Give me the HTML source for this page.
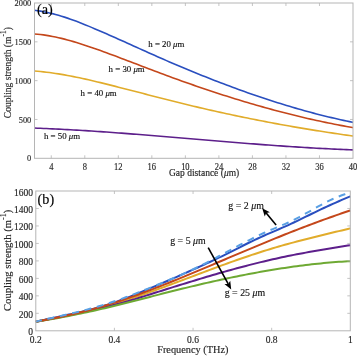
<!DOCTYPE html><html><head><meta charset="utf-8"><style>html,body{margin:0;padding:0;background:#fff;}svg{display:block;will-change:transform;filter:blur(0.3px);}text{font-family:"Liberation Serif",serif;stroke-width:0.15px;}</style></head><body>
<svg width="357" height="356" viewBox="0 0 357 356">
<rect x="0" y="0" width="357" height="356" fill="#fff"/>
<path d="M34.50,10.33 L37.50,10.70 L40.50,11.15 L43.50,11.67 L46.50,12.26 L49.50,12.92 L52.50,13.65 L55.50,14.44 L58.50,15.28 L61.50,16.18 L64.50,17.13 L67.50,18.13 L70.50,19.17 L73.50,20.25 L76.50,21.37 L79.50,22.52 L82.50,23.70 L85.50,24.90 L88.50,26.13 L91.50,27.38 L94.50,28.65 L97.50,29.93 L100.50,31.22 L103.50,32.52 L106.50,33.83 L109.50,35.15 L112.50,36.48 L115.50,37.81 L118.50,39.15 L121.50,40.50 L124.50,41.85 L127.50,43.20 L130.50,44.55 L133.50,45.91 L136.50,47.26 L139.50,48.62 L142.50,49.97 L145.50,51.32 L148.50,52.67 L151.50,54.01 L154.50,55.34 L157.50,56.67 L160.50,57.99 L163.50,59.30 L166.50,60.61 L169.50,61.91 L172.50,63.20 L175.50,64.48 L178.50,65.76 L181.50,67.02 L184.50,68.28 L187.50,69.53 L190.50,70.78 L193.50,72.01 L196.50,73.24 L199.50,74.45 L202.50,75.66 L205.50,76.86 L208.50,78.05 L211.50,79.23 L214.50,80.40 L217.50,81.56 L220.50,82.72 L223.50,83.86 L226.50,84.99 L229.50,86.12 L232.50,87.23 L235.50,88.34 L238.50,89.43 L241.50,90.51 L244.50,91.58 L247.50,92.65 L250.50,93.70 L253.50,94.74 L256.50,95.77 L259.50,96.79 L262.50,97.79 L265.50,98.79 L268.50,99.78 L271.50,100.75 L274.50,101.71 L277.50,102.66 L280.50,103.60 L283.50,104.53 L286.50,105.44 L289.50,106.34 L292.50,107.23 L295.50,108.11 L298.50,108.98 L301.50,109.83 L304.50,110.67 L307.50,111.50 L310.50,112.31 L313.50,113.11 L316.50,113.90 L319.50,114.67 L322.50,115.43 L325.50,116.18 L328.50,116.91 L331.50,117.63 L334.50,118.34 L337.50,119.03 L340.50,119.71 L343.50,120.37 L346.50,121.02 L349.50,121.65 L352.50,122.27 L353.00,122.38" fill="none" stroke="#2a4fbf" stroke-width="1.60" stroke-linejoin="round"/>
<path d="M34.50,33.93 L37.50,34.19 L40.50,34.51 L43.50,34.90 L46.50,35.35 L49.50,35.86 L52.50,36.42 L55.50,37.03 L58.50,37.69 L61.50,38.40 L64.50,39.15 L67.50,39.94 L70.50,40.77 L73.50,41.64 L76.50,42.54 L79.50,43.47 L82.50,44.42 L85.50,45.41 L88.50,46.41 L91.50,47.44 L94.50,48.48 L97.50,49.53 L100.50,50.60 L103.50,51.69 L106.50,52.78 L109.50,53.89 L112.50,55.00 L115.50,56.12 L118.50,57.25 L121.50,58.39 L124.50,59.53 L127.50,60.67 L130.50,61.82 L133.50,62.97 L136.50,64.12 L139.50,65.27 L142.50,66.42 L145.50,67.57 L148.50,68.72 L151.50,69.86 L154.50,70.99 L157.50,72.12 L160.50,73.24 L163.50,74.36 L166.50,75.47 L169.50,76.57 L172.50,77.67 L175.50,78.75 L178.50,79.83 L181.50,80.91 L184.50,81.98 L187.50,83.03 L190.50,84.09 L193.50,85.13 L196.50,86.17 L199.50,87.20 L202.50,88.22 L205.50,89.23 L208.50,90.24 L211.50,91.24 L214.50,92.23 L217.50,93.21 L220.50,94.18 L223.50,95.15 L226.50,96.10 L229.50,97.05 L232.50,97.99 L235.50,98.92 L238.50,99.84 L241.50,100.75 L244.50,101.66 L247.50,102.55 L250.50,103.44 L253.50,104.32 L256.50,105.18 L259.50,106.04 L262.50,106.89 L265.50,107.73 L268.50,108.56 L271.50,109.38 L274.50,110.19 L277.50,110.99 L280.50,111.77 L283.50,112.55 L286.50,113.32 L289.50,114.08 L292.50,114.83 L295.50,115.57 L298.50,116.30 L301.50,117.02 L304.50,117.72 L307.50,118.42 L310.50,119.10 L313.50,119.78 L316.50,120.44 L319.50,121.09 L322.50,121.73 L325.50,122.36 L328.50,122.98 L331.50,123.59 L334.50,124.18 L337.50,124.77 L340.50,125.34 L343.50,125.90 L346.50,126.45 L349.50,126.99 L352.50,127.51 L353.00,127.60" fill="none" stroke="#c4471b" stroke-width="1.60" stroke-linejoin="round"/>
<path d="M34.50,70.99 L37.50,71.24 L40.50,71.52 L43.50,71.84 L46.50,72.19 L49.50,72.57 L52.50,72.98 L55.50,73.42 L58.50,73.89 L61.50,74.38 L64.50,74.90 L67.50,75.44 L70.50,76.01 L73.50,76.60 L76.50,77.20 L79.50,77.83 L82.50,78.48 L85.50,79.14 L88.50,79.81 L91.50,80.51 L94.50,81.21 L97.50,81.93 L100.50,82.65 L103.50,83.39 L106.50,84.13 L109.50,84.88 L112.50,85.64 L115.50,86.40 L118.50,87.17 L121.50,87.93 L124.50,88.70 L127.50,89.48 L130.50,90.25 L133.50,91.03 L136.50,91.80 L139.50,92.58 L142.50,93.35 L145.50,94.13 L148.50,94.91 L151.50,95.68 L154.50,96.45 L157.50,97.22 L160.50,97.99 L163.50,98.76 L166.50,99.52 L169.50,100.28 L172.50,101.04 L175.50,101.79 L178.50,102.53 L181.50,103.27 L184.50,104.01 L187.50,104.74 L190.50,105.46 L193.50,106.18 L196.50,106.89 L199.50,107.60 L202.50,108.30 L205.50,108.99 L208.50,109.68 L211.50,110.36 L214.50,111.04 L217.50,111.71 L220.50,112.37 L223.50,113.03 L226.50,113.69 L229.50,114.33 L232.50,114.97 L235.50,115.61 L238.50,116.24 L241.50,116.86 L244.50,117.48 L247.50,118.09 L250.50,118.70 L253.50,119.30 L256.50,119.90 L259.50,120.49 L262.50,121.07 L265.50,121.65 L268.50,122.22 L271.50,122.79 L274.50,123.35 L277.50,123.90 L280.50,124.45 L283.50,124.99 L286.50,125.53 L289.50,126.06 L292.50,126.59 L295.50,127.11 L298.50,127.62 L301.50,128.13 L304.50,128.64 L307.50,129.13 L310.50,129.63 L313.50,130.11 L316.50,130.59 L319.50,131.07 L322.50,131.54 L325.50,132.00 L328.50,132.46 L331.50,132.91 L334.50,133.36 L337.50,133.80 L340.50,134.24 L343.50,134.67 L346.50,135.09 L349.50,135.51 L352.50,135.93 L353.00,135.99" fill="none" stroke="#e1ac2b" stroke-width="1.60" stroke-linejoin="round"/>
<path d="M34.50,128.07 L37.50,128.18 L40.50,128.31 L43.50,128.43 L46.50,128.56 L49.50,128.70 L52.50,128.84 L55.50,128.98 L58.50,129.13 L61.50,129.29 L64.50,129.45 L67.50,129.61 L70.50,129.78 L73.50,129.95 L76.50,130.12 L79.50,130.30 L82.50,130.48 L85.50,130.67 L88.50,130.86 L91.50,131.06 L94.50,131.25 L97.50,131.45 L100.50,131.66 L103.50,131.86 L106.50,132.07 L109.50,132.29 L112.50,132.50 L115.50,132.72 L118.50,132.94 L121.50,133.16 L124.50,133.39 L127.50,133.62 L130.50,133.85 L133.50,134.08 L136.50,134.32 L139.50,134.55 L142.50,134.79 L145.50,135.03 L148.50,135.27 L151.50,135.51 L154.50,135.76 L157.50,136.00 L160.50,136.25 L163.50,136.50 L166.50,136.75 L169.50,136.99 L172.50,137.24 L175.50,137.50 L178.50,137.75 L181.50,138.00 L184.50,138.25 L187.50,138.50 L190.50,138.76 L193.50,139.01 L196.50,139.26 L199.50,139.51 L202.50,139.77 L205.50,140.02 L208.50,140.27 L211.50,140.52 L214.50,140.77 L217.50,141.02 L220.50,141.27 L223.50,141.52 L226.50,141.77 L229.50,142.01 L232.50,142.26 L235.50,142.50 L238.50,142.74 L241.50,142.98 L244.50,143.22 L247.50,143.46 L250.50,143.69 L253.50,143.92 L256.50,144.15 L259.50,144.38 L262.50,144.61 L265.50,144.83 L268.50,145.05 L271.50,145.27 L274.50,145.49 L277.50,145.70 L280.50,145.91 L283.50,146.12 L286.50,146.33 L289.50,146.53 L292.50,146.73 L295.50,146.92 L298.50,147.11 L301.50,147.30 L304.50,147.48 L307.50,147.66 L310.50,147.84 L313.50,148.01 L316.50,148.18 L319.50,148.35 L322.50,148.51 L325.50,148.66 L328.50,148.81 L331.50,148.96 L334.50,149.10 L337.50,149.24 L340.50,149.37 L343.50,149.50 L346.50,149.62 L349.50,149.74 L352.50,149.85 L353.00,149.87" fill="none" stroke="#5d1f8b" stroke-width="1.60" stroke-linejoin="round"/>
<rect x="34.5" y="3.0" width="318.5" height="155.3" fill="none" stroke="#b5b5b5" stroke-width="1"/>
<path d="M34.5,119.48h3M353.0,119.48h-3M34.5,80.65h3M353.0,80.65h-3M34.5,41.83h3M353.0,41.83h-3M51.26,158.3v-3M51.26,3.0v3M84.79,158.3v-3M84.79,3.0v3M118.32,158.3v-3M118.32,3.0v3M151.84,158.3v-3M151.84,3.0v3M185.37,158.3v-3M185.37,3.0v3M218.89,158.3v-3M218.89,3.0v3M252.42,158.3v-3M252.42,3.0v3M285.95,158.3v-3M285.95,3.0v3M319.47,158.3v-3M319.47,3.0v3" stroke="#b5b5b5" stroke-width="0.8" fill="none"/>
<g font-size="9.00" fill="#262626" stroke="#262626" text-anchor="end" transform="translate(31.30,0) scale(0.930,1)">
<text x="0" y="161.50">0</text>
<text x="0" y="122.68">500</text>
<text x="0" y="83.85">1000</text>
<text x="0" y="45.03">1500</text>
<text x="0" y="6.20">2000</text>
</g>
<g font-size="9.40" fill="#262626" stroke="#262626" text-anchor="middle">
<text x="0" y="169.60" transform="translate(51.26,0) scale(0.900,1)">4</text>
<text x="0" y="169.60" transform="translate(84.79,0) scale(0.900,1)">8</text>
<text x="0" y="169.60" transform="translate(118.32,0) scale(0.900,1)">12</text>
<text x="0" y="169.60" transform="translate(151.84,0) scale(0.900,1)">16</text>
<text x="0" y="169.60" transform="translate(185.37,0) scale(0.900,1)">10</text>
<text x="0" y="169.60" transform="translate(218.89,0) scale(0.900,1)">24</text>
<text x="0" y="169.60" transform="translate(252.42,0) scale(0.900,1)">28</text>
<text x="0" y="169.60" transform="translate(285.95,0) scale(0.900,1)">32</text>
<text x="0" y="169.60" transform="translate(319.47,0) scale(0.900,1)">36</text>
<text x="0" y="169.60" transform="translate(353.00,0) scale(0.900,1)">40</text>
</g>
<text x="169.00" y="176.30" font-size="9.50" fill="#262626" stroke="#262626">Gap distance (<tspan font-style="italic">&#956;</tspan>m)</text>
<text transform="translate(11.30,118.20) rotate(-90)" font-size="9.55" fill="#262626" stroke="#262626">Coupling strength (m<tspan font-size="7.50" dy="-5.00">-1</tspan><tspan dy="5.00">)</tspan></text>
<text x="37.00" y="13.90" font-size="14.20" fill="#000" stroke="#000" stroke-width="0.5">(a)</text>
<text x="0" y="47.30" font-size="9.20" fill="#111" stroke="#111" transform="translate(148.30,0) scale(0.960,1)">h = 20 <tspan font-style="italic">&#956;</tspan>m</text>
<text x="0" y="72.40" font-size="9.20" fill="#111" stroke="#111" transform="translate(108.60,0) scale(0.960,1)">h = 30 <tspan font-style="italic">&#956;</tspan>m</text>
<text x="0" y="95.70" font-size="9.20" fill="#111" stroke="#111" transform="translate(80.60,0) scale(0.960,1)">h = 40 <tspan font-style="italic">&#956;</tspan>m</text>
<text x="0" y="139.00" font-size="9.20" fill="#111" stroke="#111" transform="translate(44.00,0) scale(0.960,1)">h = 50 <tspan font-style="italic">&#956;</tspan>m</text>
<path d="M35.80,321.84 L38.80,321.12 L41.80,320.42 L44.80,319.74 L47.80,319.07 L50.80,318.41 L53.80,317.76 L56.80,317.11 L59.80,316.47 L62.80,315.83 L65.80,315.18 L68.80,314.54 L71.80,313.88 L74.80,313.22 L77.80,312.55 L80.80,311.86 L83.80,311.15 L86.80,310.43 L89.80,309.68 L92.80,308.91 L95.80,308.11 L98.80,307.29 L101.80,306.43 L104.80,305.54 L107.80,304.61 L110.80,303.64 L113.80,302.63 L116.80,301.59 L119.80,300.50 L122.80,299.39 L125.80,298.25 L128.80,297.08 L131.80,295.89 L134.80,294.68 L137.80,293.45 L140.80,292.21 L143.80,290.96 L146.80,289.69 L149.80,288.42 L152.80,287.14 L155.80,285.87 L158.80,284.58 L161.80,283.30 L164.80,282.01 L167.80,280.71 L170.80,279.41 L173.80,278.11 L176.80,276.80 L179.80,275.49 L182.80,274.17 L185.80,272.84 L188.80,271.51 L191.80,270.17 L194.80,268.83 L197.80,267.48 L200.80,266.12 L203.80,264.75 L206.80,263.37 L209.80,261.98 L212.80,260.57 L215.80,259.15 L218.80,257.72 L221.80,256.28 L224.80,254.81 L227.80,253.33 L230.80,251.83 L233.80,250.32 L236.80,248.79 L239.80,247.27 L242.80,245.75 L245.80,244.25 L248.80,242.77 L251.80,241.31 L254.80,239.89 L257.80,238.50 L260.80,237.13 L263.80,235.78 L266.80,234.45 L269.80,233.14 L272.80,231.84 L275.80,230.55 L278.80,229.26 L281.80,227.95 L284.80,226.64 L287.80,225.30 L290.80,223.93 L293.80,222.52 L296.80,221.09 L299.80,219.64 L302.80,218.18 L305.80,216.71 L308.80,215.24 L311.80,213.77 L314.80,212.32 L317.80,210.87 L320.80,209.44 L323.80,208.02 L326.80,206.62 L329.80,205.24 L332.80,203.89 L335.80,202.55 L338.80,201.24 L341.80,199.95 L344.80,198.68 L347.80,197.44 L350.30,196.42" fill="none" stroke="#2a4fbf" stroke-width="2.00" stroke-linejoin="round"/>
<path d="M35.80,321.59 L38.80,321.04 L41.80,320.49 L44.80,319.93 L47.80,319.37 L50.80,318.80 L53.80,318.22 L56.80,317.64 L59.80,317.04 L62.80,316.43 L65.80,315.82 L68.80,315.19 L71.80,314.55 L74.80,313.90 L77.80,313.23 L80.80,312.55 L83.80,311.86 L86.80,311.15 L89.80,310.42 L92.80,309.68 L95.80,308.92 L98.80,308.14 L101.80,307.35 L104.80,306.53 L107.80,305.70 L110.80,304.84 L113.80,303.97 L116.80,303.07 L119.80,302.16 L122.80,301.23 L125.80,300.28 L128.80,299.31 L131.80,298.33 L134.80,297.33 L137.80,296.32 L140.80,295.30 L143.80,294.26 L146.80,293.21 L149.80,292.15 L152.80,291.08 L155.80,290.00 L158.80,288.91 L161.80,287.82 L164.80,286.71 L167.80,285.60 L170.80,284.49 L173.80,283.37 L176.80,282.24 L179.80,281.12 L182.80,279.99 L185.80,278.86 L188.80,277.73 L191.80,276.60 L194.80,275.47 L197.80,274.34 L200.80,273.21 L203.80,272.09 L206.80,270.96 L209.80,269.85 L212.80,268.73 L215.80,267.63 L218.80,266.52 L221.80,265.43 L224.80,264.34 L227.80,263.25 L230.80,262.18 L233.80,261.11 L236.80,260.06 L239.80,259.01 L242.80,257.97 L245.80,256.94 L248.80,255.93 L251.80,254.92 L254.80,253.93 L257.80,252.96 L260.80,251.99 L263.80,251.04 L266.80,250.11 L269.80,249.19 L272.80,248.28 L275.80,247.39 L278.80,246.52 L281.80,245.66 L284.80,244.81 L287.80,243.98 L290.80,243.16 L293.80,242.35 L296.80,241.55 L299.80,240.76 L302.80,239.98 L305.80,239.21 L308.80,238.45 L311.80,237.69 L314.80,236.95 L317.80,236.20 L320.80,235.47 L323.80,234.74 L326.80,234.01 L329.80,233.28 L332.80,232.56 L335.80,231.84 L338.80,231.13 L341.80,230.41 L344.80,229.69 L347.80,228.98 L350.30,228.38" fill="none" stroke="#e1ac2b" stroke-width="2.00" stroke-linejoin="round"/>
<path d="M35.80,321.75 L38.80,321.17 L41.80,320.58 L44.80,319.99 L47.80,319.41 L50.80,318.82 L53.80,318.23 L56.80,317.64 L59.80,317.05 L62.80,316.45 L65.80,315.85 L68.80,315.24 L71.80,314.63 L74.80,314.01 L77.80,313.38 L80.80,312.75 L83.80,312.10 L86.80,311.45 L89.80,310.79 L92.80,310.11 L95.80,309.43 L98.80,308.73 L101.80,308.01 L104.80,307.29 L107.80,306.55 L110.80,305.79 L113.80,305.02 L116.80,304.23 L119.80,303.43 L122.80,302.61 L125.80,301.76 L128.80,300.90 L131.80,300.02 L134.80,299.12 L137.80,298.21 L140.80,297.28 L143.80,296.34 L146.80,295.40 L149.80,294.45 L152.80,293.51 L155.80,292.56 L158.80,291.62 L161.80,290.68 L164.80,289.73 L167.80,288.79 L170.80,287.86 L173.80,286.92 L176.80,285.98 L179.80,285.05 L182.80,284.12 L185.80,283.19 L188.80,282.27 L191.80,281.35 L194.80,280.43 L197.80,279.52 L200.80,278.62 L203.80,277.72 L206.80,276.83 L209.80,275.94 L212.80,275.06 L215.80,274.19 L218.80,273.32 L221.80,272.47 L224.80,271.62 L227.80,270.78 L230.80,269.94 L233.80,269.12 L236.80,268.31 L239.80,267.50 L242.80,266.71 L245.80,265.92 L248.80,265.14 L251.80,264.38 L254.80,263.62 L257.80,262.88 L260.80,262.15 L263.80,261.42 L266.80,260.71 L269.80,260.02 L272.80,259.33 L275.80,258.66 L278.80,257.99 L281.80,257.35 L284.80,256.71 L287.80,256.09 L290.80,255.48 L293.80,254.88 L296.80,254.30 L299.80,253.73 L302.80,253.17 L305.80,252.62 L308.80,252.08 L311.80,251.55 L314.80,251.03 L317.80,250.51 L320.80,250.00 L323.80,249.50 L326.80,249.00 L329.80,248.50 L332.80,248.01 L335.80,247.52 L338.80,247.03 L341.80,246.54 L344.80,246.05 L347.80,245.56 L350.30,245.15" fill="none" stroke="#5d1f8b" stroke-width="2.00" stroke-linejoin="round"/>
<path d="M35.80,321.81 L38.80,321.33 L41.80,320.84 L44.80,320.34 L47.80,319.83 L50.80,319.30 L53.80,318.77 L56.80,318.22 L59.80,317.67 L62.80,317.10 L65.80,316.53 L68.80,315.94 L71.80,315.35 L74.80,314.74 L77.80,314.13 L80.80,313.50 L83.80,312.87 L86.80,312.22 L89.80,311.57 L92.80,310.91 L95.80,310.24 L98.80,309.56 L101.80,308.87 L104.80,308.17 L107.80,307.46 L110.80,306.75 L113.80,306.02 L116.80,305.29 L119.80,304.55 L122.80,303.81 L125.80,303.06 L128.80,302.30 L131.80,301.54 L134.80,300.78 L137.80,300.01 L140.80,299.24 L143.80,298.47 L146.80,297.70 L149.80,296.93 L152.80,296.15 L155.80,295.38 L158.80,294.61 L161.80,293.84 L164.80,293.08 L167.80,292.32 L170.80,291.56 L173.80,290.81 L176.80,290.06 L179.80,289.32 L182.80,288.58 L185.80,287.85 L188.80,287.12 L191.80,286.40 L194.80,285.69 L197.80,284.98 L200.80,284.27 L203.80,283.58 L206.80,282.89 L209.80,282.21 L212.80,281.53 L215.80,280.86 L218.80,280.20 L221.80,279.55 L224.80,278.90 L227.80,278.27 L230.80,277.64 L233.80,277.01 L236.80,276.40 L239.80,275.80 L242.80,275.20 L245.80,274.61 L248.80,274.04 L251.80,273.47 L254.80,272.91 L257.80,272.36 L260.80,271.82 L263.80,271.29 L266.80,270.77 L269.80,270.27 L272.80,269.77 L275.80,269.28 L278.80,268.81 L281.80,268.34 L284.80,267.89 L287.80,267.44 L290.80,267.01 L293.80,266.59 L296.80,266.19 L299.80,265.79 L302.80,265.41 L305.80,265.04 L308.80,264.68 L311.80,264.34 L314.80,264.01 L317.80,263.69 L320.80,263.39 L323.80,263.10 L326.80,262.82 L329.80,262.56 L332.80,262.31 L335.80,262.07 L338.80,261.85 L341.80,261.65 L344.80,261.46 L347.80,261.28 L350.30,261.15" fill="none" stroke="#6ea933" stroke-width="2.00" stroke-linejoin="round"/>
<path d="M35.80,321.43 L38.80,320.96 L41.80,320.46 L44.80,319.94 L47.80,319.41 L50.80,318.86 L53.80,318.28 L56.80,317.69 L59.80,317.08 L62.80,316.46 L65.80,315.81 L68.80,315.14 L71.80,314.46 L74.80,313.76 L77.80,313.03 L80.80,312.29 L83.80,311.53 L86.80,310.75 L89.80,309.96 L92.80,309.14 L95.80,308.30 L98.80,307.45 L101.80,306.57 L104.80,305.68 L107.80,304.77 L110.80,303.84 L113.80,302.89 L116.80,301.93 L119.80,300.94 L122.80,299.94 L125.80,298.92 L128.80,297.88 L131.80,296.83 L134.80,295.77 L137.80,294.69 L140.80,293.60 L143.80,292.49 L146.80,291.37 L149.80,290.24 L152.80,289.09 L155.80,287.94 L158.80,286.77 L161.80,285.60 L164.80,284.41 L167.80,283.21 L170.80,282.01 L173.80,280.80 L176.80,279.58 L179.80,278.36 L182.80,277.12 L185.80,275.89 L188.80,274.64 L191.80,273.40 L194.80,272.14 L197.80,270.89 L200.80,269.63 L203.80,268.36 L206.80,267.10 L209.80,265.83 L212.80,264.56 L215.80,263.29 L218.80,262.02 L221.80,260.75 L224.80,259.47 L227.80,258.20 L230.80,256.93 L233.80,255.66 L236.80,254.39 L239.80,253.12 L242.80,251.85 L245.80,250.59 L248.80,249.32 L251.80,248.07 L254.80,246.81 L257.80,245.56 L260.80,244.32 L263.80,243.07 L266.80,241.84 L269.80,240.61 L272.80,239.38 L275.80,238.17 L278.80,236.96 L281.80,235.75 L284.80,234.55 L287.80,233.36 L290.80,232.18 L293.80,231.00 L296.80,229.83 L299.80,228.67 L302.80,227.52 L305.80,226.37 L308.80,225.23 L311.80,224.10 L314.80,222.98 L317.80,221.87 L320.80,220.77 L323.80,219.67 L326.80,218.59 L329.80,217.51 L332.80,216.45 L335.80,215.39 L338.80,214.34 L341.80,213.31 L344.80,212.28 L347.80,211.27 L350.30,210.43" fill="none" stroke="#c4471b" stroke-width="2.00" stroke-linejoin="round"/>
<path d="M35.80,321.56 L38.80,320.87 L41.80,320.19 L44.80,319.52 L47.80,318.84 L50.80,318.17 L53.80,317.50 L56.80,316.82 L59.80,316.14 L62.80,315.46 L65.80,314.77 L68.80,314.07 L71.80,313.37 L74.80,312.65 L77.80,311.92 L80.80,311.17 L83.80,310.41 L86.80,309.63 L89.80,308.83 L92.80,308.01 L95.80,307.17 L98.80,306.30 L101.80,305.41 L104.80,304.50 L107.80,303.55 L110.80,302.57 L113.80,301.57 L116.80,300.53 L119.80,299.47 L122.80,298.39 L125.80,297.28 L128.80,296.15 L131.80,295.01 L134.80,293.84 L137.80,292.67 L140.80,291.48 L143.80,290.29 L146.80,289.08 L149.80,287.88 L152.80,286.67 L155.80,285.45 L158.80,284.23 L161.80,283.00 L164.80,281.76 L167.80,280.51 L170.80,279.25 L173.80,277.97 L176.80,276.68 L179.80,275.37 L182.80,274.04 L185.80,272.70 L188.80,271.33 L191.80,269.93 L194.80,268.51 L197.80,267.07 L200.80,265.59 L203.80,264.09 L206.80,262.56 L209.80,261.01 L212.80,259.44 L215.80,257.85 L218.80,256.25 L221.80,254.64 L224.80,253.03 L227.80,251.41 L230.80,249.79 L233.80,248.18 L236.80,246.58 L239.80,244.98 L242.80,243.40 L245.80,241.84 L248.80,240.29 L251.80,238.77 L254.80,237.28 L257.80,235.81 L260.80,234.38 L263.80,232.99 L266.80,231.64 L269.80,230.33 L272.80,229.06 L275.80,227.82 L278.80,226.59 L281.80,225.35 L284.80,224.08 L287.80,222.76 L290.80,221.37 L293.80,219.90 L296.80,218.37 L299.80,216.77 L302.80,215.14 L305.80,213.47 L308.80,211.78 L311.80,210.08 L314.80,208.39 L317.80,206.72 L320.80,205.07 L323.80,203.47 L326.80,201.92 L329.80,200.43 L332.80,199.02 L335.80,197.69 L338.80,196.45 L341.80,195.30 L344.80,194.25 L347.80,193.29 L350.30,192.57" fill="none" stroke="#5aa0e4" stroke-width="2.00" stroke-dasharray="7.0,5.69" stroke-dashoffset="0.79"/>
<rect x="35.8" y="191.0" width="314.5" height="139.8" fill="none" stroke="#b5b5b5" stroke-width="1"/>
<path d="M35.8,313.32h3M350.3,313.32h-3M35.8,295.85h3M350.3,295.85h-3M35.8,278.38h3M350.3,278.38h-3M35.8,260.90h3M350.3,260.90h-3M35.8,243.43h3M350.3,243.43h-3M35.8,225.95h3M350.3,225.95h-3M35.8,208.47h3M350.3,208.47h-3M114.42,330.8v-3M114.42,191.0v3M193.05,330.8v-3M193.05,191.0v3M271.68,330.8v-3M271.68,191.0v3" stroke="#b5b5b5" stroke-width="0.8" fill="none"/>
<g font-size="9.50" fill="#262626" stroke="#262626" text-anchor="end" transform="translate(33.10,0) scale(1.000,1)">
<text x="0" y="335.30">0</text>
<text x="0" y="317.82">200</text>
<text x="0" y="300.35">400</text>
<text x="0" y="282.88">600</text>
<text x="0" y="265.40">800</text>
<text x="0" y="247.93">1000</text>
<text x="0" y="230.45">1200</text>
<text x="0" y="212.97">1400</text>
<text x="0" y="195.50">1600</text>
</g>
<g font-size="9.50" fill="#262626" stroke="#262626" text-anchor="middle">
<text x="0" y="343.00" transform="translate(35.80,0) scale(1.000,1)">0.2</text>
<text x="0" y="343.00" transform="translate(114.42,0) scale(1.000,1)">0.4</text>
<text x="0" y="343.00" transform="translate(193.05,0) scale(1.000,1)">0.6</text>
<text x="0" y="343.00" transform="translate(271.68,0) scale(1.000,1)">0.8</text>
<text x="0" y="343.00" transform="translate(350.30,0) scale(1.000,1)">1</text>
</g>
<text x="157.20" y="353.20" font-size="10.30" fill="#262626" stroke="#262626">Frequency (THz)</text>
<text transform="translate(11.40,311.00) rotate(-90)" font-size="10.65" fill="#262626" stroke="#262626">Coupling strength (m<tspan font-size="8.00" dy="-5.40">-1</tspan><tspan dy="5.40">)</tspan></text>
<text x="37.60" y="203.90" font-size="14.20" fill="#000" stroke="#000" stroke-width="0.5">(b)</text>
<text x="0" y="208.80" font-size="9.90" fill="#111" stroke="#111" transform="translate(228.30,0) scale(1.000,1)">g = 2 <tspan font-style="italic">&#956;</tspan>m</text>
<text x="0" y="243.80" font-size="9.90" fill="#111" stroke="#111" transform="translate(170.20,0) scale(1.000,1)">g = 5 <tspan font-style="italic">&#956;</tspan>m</text>
<text x="0" y="295.50" font-size="9.90" fill="#111" stroke="#111" transform="translate(224.70,0) scale(1.000,1)">g = 25 <tspan font-style="italic">&#956;</tspan>m</text>
<line x1="276.10" y1="224.90" x2="266.17" y2="212.97" stroke="#000" stroke-width="1.60"/>
<path d="M262.20,208.20L269.85,212.24L266.17,212.97L264.78,216.46Z" fill="#000"/>
<line x1="208.20" y1="247.60" x2="228.21" y2="283.97" stroke="#000" stroke-width="1.60"/>
<path d="M231.20,289.40L224.45,283.98L228.21,283.97L230.23,280.80Z" fill="#000"/>
</svg></body></html>
